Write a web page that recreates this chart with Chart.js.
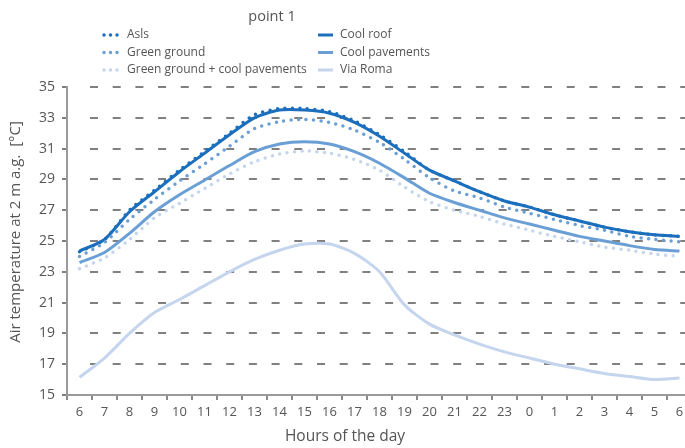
<!DOCTYPE html>
<html>
<head>
<meta charset="utf-8">
<script src="https://cdn.jsdelivr.net/npm/chart.js@4.4.0/dist/chart.umd.min.js"></script>
<style>
  html, body { margin: 0; padding: 0; overflow: hidden; background: #fff; }
  #wrap { position: relative; width: 700px; height: 448px; }
</style>
</head>
<body>
<div id="wrap"><canvas id="tempChart"></canvas></div>
<script>
// hours of the day, from 6 in the morning to 6 the next morning
const hours = ['6', '7', '8', '9', '10', '11', '12', '13', '14', '15', '16', '17', '18',
  '19', '20', '21', '22', '23', '0', '1', '2', '3', '4', '5', '6'];
const yTicks = [15, 17, 19, 21, 23, 25, 27, 29, 31, 33, 35];

const asls = [24.3, 25.1, 27.0, 28.3, 29.6, 30.8, 32.0, 33.2, 33.6, 33.6, 33.4, 32.8, 31.9,
  30.8, 29.6, 28.9, 28.2, 27.6, 27.2, 26.7, 26.3, 25.9, 25.6, 25.4, 25.3];
const greenGround = [24.0, 24.9, 26.4, 27.7, 28.9, 30.0, 31.15, 32.3, 32.75, 32.9, 32.7, 32.2, 31.4,
  30.3, 29.1, 28.25, 27.8, 27.2, 26.8, 26.4, 26.0, 25.7, 25.3, 25.1, 24.95];
const greenGroundCoolPav = [23.2, 23.9, 25.1, 26.5, 27.45, 28.4, 29.35, 30.15, 30.65, 30.85, 30.7, 30.3, 29.6,
  28.5, 27.55, 27.0, 26.6, 26.1, 25.7, 25.3, 24.95, 24.6, 24.4, 24.15, 24.0];
const coolRoof = [24.35, 25.1, 26.9, 28.2, 29.5, 30.7, 31.9, 33.0, 33.5, 33.5, 33.3, 32.7, 31.8,
  30.7, 29.6, 28.9, 28.2, 27.6, 27.2, 26.7, 26.3, 25.9, 25.6, 25.4, 25.3];
const coolPavements = [23.6, 24.25, 25.5, 26.9, 28.0, 28.95, 29.9, 30.8, 31.3, 31.45, 31.3, 30.8, 30.05,
  29.1, 28.1, 27.5, 27.0, 26.5, 26.1, 25.7, 25.3, 25.0, 24.7, 24.45, 24.35];
const viaRoma = [16.15, 17.4, 19.0, 20.35, 21.2, 22.1, 23.0, 23.8, 24.4, 24.8, 24.8, 24.2, 23.0,
  20.85, 19.6, 18.9, 18.3, 17.8, 17.4, 17.0, 16.7, 16.4, 16.2, 16.0, 16.1];

const darkBlue = '#1b6fbd';
const midBlue = '#6a9fd6';
const lightBlue = '#c4d5ed';
const textColor = '#555555';
const fontFamily = "'Open Sans', 'DejaVu Sans', sans-serif";

const dotted = { borderDash: [0, 7.5], borderCapStyle: 'round', borderWidth: 3.5 };
const solid = { borderDash: [], borderCapStyle: 'butt', borderWidth: 3 };

// gridline dash: leading gap, then 8px dashes every ~22.7px
const gridDash = [0, 22].concat(Array(30).fill([8, 14.7]).flat());

// title, two-column legend and axis titles
const decorations = {
  id: 'decorations',
  afterDraw(chart) {
    const ctx = chart.ctx;
    ctx.save();
    ctx.fillStyle = textColor;
    ctx.textBaseline = 'middle';

    ctx.font = '14.5px ' + fontFamily;
    ctx.textAlign = 'center';
    ctx.fillText('point 1', 272, 17);

    ctx.font = '12px ' + fontFamily;
    ctx.textAlign = 'left';
    chart.data.datasets.forEach((ds, i) => {
      const col = i < 3 ? 0 : 1;
      const row = i % 3;
      const x = col === 0 ? 104 : 318;
      const y = 35 + row * 17.5;
      ctx.save();
      ctx.strokeStyle = ds.borderColor;
      ctx.lineWidth = ds.borderWidth;
      ctx.lineCap = ds.borderCapStyle;
      ctx.setLineDash(ds.borderDash.length ? [0, 6.5] : []);
      ctx.beginPath();
      ctx.moveTo(x, y);
      ctx.lineTo(x + (ds.borderDash.length ? 13.5 : 15), y);
      ctx.stroke();
      ctx.restore();
      ctx.fillText(ds.label, col === 0 ? 127 : 340, y);
    });

    ctx.font = '15.5px ' + fontFamily;
    ctx.textAlign = 'center';
    ctx.fillText('Hours of the day', 345, 437);

    ctx.font = '15px ' + fontFamily;
    ctx.translate(16, 232);
    ctx.rotate(-Math.PI / 2);
    ctx.fillText('Air temperature at 2 m a.g.  [°C]', 0, 0);
    ctx.restore();
  }
};

const canvas = document.getElementById('tempChart');
new Chart(canvas.getContext('2d'), {
  type: 'line',
  data: {
    labels: hours,
    datasets: [
      { label: 'Asls', data: asls, borderColor: darkBlue, ...dotted },
      { label: 'Green ground', data: greenGround, borderColor: midBlue, ...dotted },
      { label: 'Green ground + cool pavements', data: greenGroundCoolPav, borderColor: lightBlue, ...dotted },
      { label: 'Cool roof', data: coolRoof, borderColor: darkBlue, ...solid },
      { label: 'Cool pavements', data: coolPavements, borderColor: midBlue, ...solid },
      { label: 'Via Roma', data: viaRoma, borderColor: lightBlue, ...solid }
    ]
  },
  options: {
    responsive: true,
    maintainAspectRatio: false,
    animation: false,
    layout: { padding: { top: 87, right: 8, left: 0, bottom: 0 } },
    elements: {
      point: { radius: 0 },
      line: { tension: 0.25, fill: false }
    },
    plugins: {
      legend: { display: false },
      title: { display: false },
      tooltip: { enabled: false }
    },
    scales: {
      x: {
        offset: true,
        grid: { drawOnChartArea: false, color: '#8a8a8a', lineWidth: 2, tickLength: 5, offset: true },
        border: { color: '#9a9a9a', width: 2 },
        ticks: {
          color: textColor,
          font: { family: fontFamily, size: 13 },
          padding: 4,
          maxRotation: 0,
          autoSkip: false
        },
        afterFit: (scale) => { scale.height = 53; }
      },
      y: {
        min: 15,
        max: 35,
        afterBuildTicks: (scale) => { scale.ticks = yTicks.map(v => ({ value: v })); },
        grid: { color: '#808080', lineWidth: 2, tickLength: 5 },
        border: { color: '#9a9a9a', width: 2, dash: gridDash },
        ticks: {
          color: textColor,
          font: { family: fontFamily, size: 14 },
          padding: 7
        },
        afterFit: (scale) => { scale.width = 67; }
      }
    }
  },
  plugins: [decorations]
});
</script>
</body>
</html>
